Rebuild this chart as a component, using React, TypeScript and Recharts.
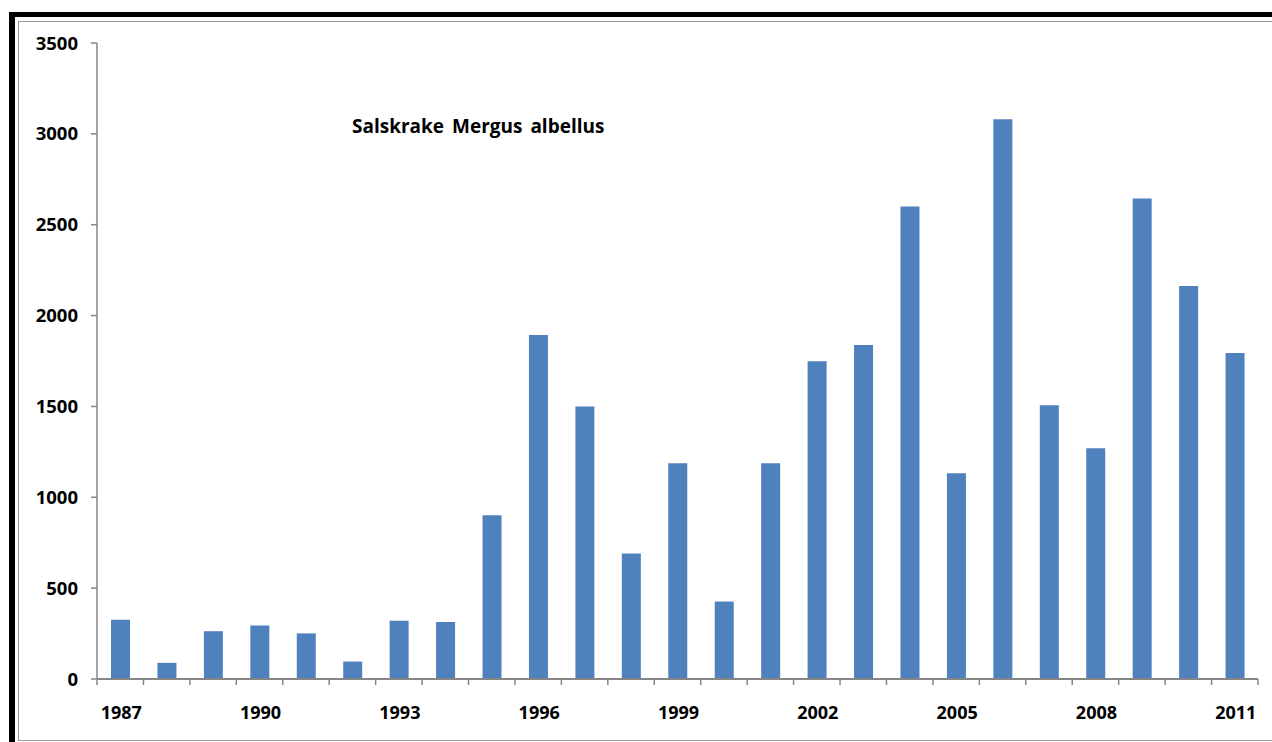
import { Bar, BarChart, XAxis, YAxis } from "recharts";

const YEARS = [
  "1987", "1988", "1989", "1990", "1991", "1992", "1993", "1994", "1995",
  "1996", "1997", "1998", "1999", "2000", "2001", "2002", "2003", "2004",
  "2005", "2006", "2007", "2008", "2009", "2010", "2011",
];

const COUNTS = [
  326, 89, 263, 295, 251, 96, 321, 313, 901, 1893, 1500, 690, 1187, 427,
  1187, 1749, 1838, 2600, 1132, 3081, 1507, 1270, 2644, 2163, 1794,
];

const Y_TICKS = [0, 500, 1000, 1500, 2000, 2500, 3000, 3500];

const TITLE = "Salskrake Mergus albellus";

const FONT = "'Open Sans', 'Noto Sans', sans-serif";
const BAR_COLOR = "#4f81bd";
const AXIS_COLOR = "#868686";

const data = YEARS.map((year, i) => ({ year, count: COUNTS[i] }));

// every category gets a boundary tick; only every third year gets a label
const YearTick = (props: any) => {
  const { x, y, payload, index, width } = props;
  const half = payload?.offset ?? width / YEARS.length / 2;
  const isLast = index === YEARS.length - 1;
  return (
    <g>
      <line x1={x - half} y1={y} x2={x - half} y2={y + 6} stroke={AXIS_COLOR} strokeWidth={1.5} />
      {isLast && (
        <line x1={x + half} y1={y} x2={x + half} y2={y + 6} stroke={AXIS_COLOR} strokeWidth={1.5} />
      )}
      {index % 3 === 0 && (
        <text
          x={x + 1}
          y={y + 40}
          textAnchor="middle"
          fontFamily={FONT}
          fontWeight={700}
          fontSize={18}
          fill="#000"
        >
          {payload.value}
        </text>
      )}
    </g>
  );
};

export default function App() {
  return (
    <div
      style={{
        position: "absolute",
        left: 0,
        top: 0,
        width: 1272,
        height: 742,
        overflow: "hidden",
        background: "#fff",
      }}
    >
      <div
        style={{
          position: "absolute",
          left: 9,
          top: 12,
          width: 1400,
          height: 900,
          borderTop: "5px solid #000",
          borderLeft: "6px solid #000",
        }}
      />
      <div
        style={{
          position: "absolute",
          left: 18,
          top: 21,
          width: 1400,
          height: 718,
          border: "1.5px solid #9a9a9a",
        }}
      />
      <div
        style={{
          position: "absolute",
          left: 352,
          top: 113,
          fontFamily: FONT,
          fontWeight: 700,
          fontSize: 19,
          wordSpacing: 3,
          color: "#000",
          whiteSpace: "nowrap",
        }}
      >
        {TITLE}
      </div>
      <div style={{ position: "absolute", left: 0, top: 0 }}>
        <BarChart
          width={1272}
          height={742}
          data={data}
          margin={{ top: 43, right: 14, bottom: 33, left: 0 }}
          barSize={19}
        >
          <XAxis
            dataKey="year"
            interval={0}
            height={30}
            axisLine={{ stroke: AXIS_COLOR, strokeWidth: 2 }}
            tickLine={false}
            tickSize={0}
            tickMargin={0}
            tick={<YearTick />}
          />
          <YAxis
            width={97}
            domain={[0, 3500]}
            ticks={Y_TICKS}
            interval={0}
            axisLine={{ stroke: AXIS_COLOR, strokeWidth: 1.5 }}
            tickLine={{ stroke: AXIS_COLOR, strokeWidth: 1.5 }}
            tickSize={6}
            tickMargin={13}
            tick={{
              fill: "#000",
              fontFamily: FONT,
              fontWeight: 700,
              fontSize: 18.5,
            }}
          />
          <Bar dataKey="count" fill={BAR_COLOR} isAnimationActive={false} />
        </BarChart>
      </div>
    </div>
  );
}
